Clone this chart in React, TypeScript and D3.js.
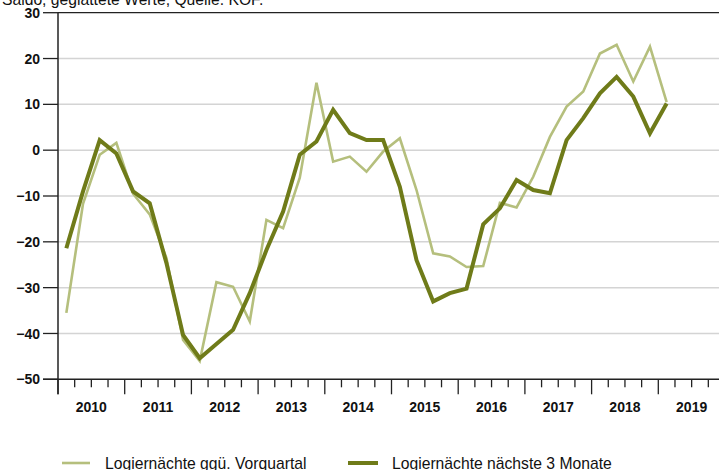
import React from "react";
import * as d3 from "d3";

const title = "Saldo, geglättete Werte, Quelle: KOF.";
const years = [2010, 2011, 2012, 2013, 2014, 2015, 2016, 2017, 2018, 2019];
const yTicks = [30, 20, 10, 0, -10, -20, -30, -40, -50];
const seriesNames = ["Logiernächte ggü. Vorquartal", "Logiernächte nächste 3 Monate"];
// quarterly values 2010Q1 .. 2019Q1
const vorquartal = [
  -35.5, -11.7, -1, 1.6, -9.5, -14, -23.5, -41.4, -46, -28.8, -29.8, -37.4, -15.2, -17, -6,
  14.7, -2.5, -1.4, -4.7, -0.3, 2.6, -8.7, -22.5, -23.2, -25.5, -25.3, -11.5, -12.5, -5.8,
  2.9, 9.5, 12.8, 21.1, 23, 15, 22.6, 10.5,
];
const naechste3 = [
  -21.4, -9, 2.2, -0.7, -9, -11.6, -24.6, -40.3, -45.4, -42.3, -39.2, -31.2, -21.8, -13.4, -1,
  1.9, 8.8, 3.7, 2.2, 2.2, -8, -24, -33, -31.2, -30.2, -16.2, -12.7, -6.5, -8.7, -9.4, 2.2, 7,
  12.4, 16, 11.7, 3.7, 10.2,
];

const W = 719;
const H = 470;
const LEFT = 58;
const TOP = 12.7;
const BOTTOM = 379.3;
const RIGHT_EDGE = 725;
const LIGHT = "#b5bf7d";
const DARK = "#6f7b19";
const AXIS = "#222";
const FONT = "'Liberation Sans', Arial, sans-serif";

export default function App() {
  const x = d3.scaleLinear().domain([2010, 2020]).range([LEFT, RIGHT_EDGE]);
  const y = d3.scaleLinear().domain([-50, 30]).range([BOTTOM, TOP]);
  const tOf = (i: number) => 2010 + (i + 0.5) / 4;
  const line = d3
    .line<number>()
    .x((_, i) => x(tOf(i)))
    .y((d) => y(d));

  const quarters = d3.range(0, 40).map((q) => 2010 + q / 4);

  return (
    <svg
      width={W}
      height={H}
      style={{ position: "absolute", left: 0, top: 0, background: "#fff" }}
      fontFamily={FONT}
    >
      <text x={2} y={5} fontSize={15.7} fill="#111">
        {title}
      </text>
      {/* gridlines */}
      {yTicks
        .filter((v) => v !== 30 && v !== -50)
        .map((v) => (
          <line key={"g" + v} x1={LEFT} x2={W} y1={y(v)} y2={y(v)} stroke="#d4d4d4" strokeWidth={1.5} />
        ))}
      <line x1={LEFT} x2={W} y1={y(30)} y2={y(30)} stroke={AXIS} strokeWidth={1.3} />
      {/* y ticks */}
      {yTicks.map((v) => (
        <g key={"yt" + v}>
          <line x1={43} x2={LEFT} y1={y(v)} y2={y(v)} stroke={AXIS} strokeWidth={1.3} />
          <text
            x={40}
            y={y(v)}
            dy="0.36em"
            textAnchor="end"
            fontSize={14}
            fontWeight="bold"
            fill="#111"
          >
            {v < 0 ? "\u2212" + Math.abs(v) : String(v)}
          </text>
        </g>
      ))}
      {/* x ticks */}
      {quarters.map((q, k) => (
        <line
          key={"xt" + k}
          x1={x(q)}
          x2={x(q)}
          y1={BOTTOM}
          y2={BOTTOM + (k % 4 === 0 ? 15 : 8)}
          stroke={AXIS}
          strokeWidth={1.3}
        />
      ))}
      {years.map((yr) => (
        <text
          key={"yl" + yr}
          x={x(yr + 0.5)}
          y={412}
          textAnchor="middle"
          fontSize={14}
          fontWeight="bold"
          fill="#111"
        >
          {yr}
        </text>
      ))}
      {/* axes */}
      <line x1={LEFT} x2={LEFT} y1={TOP} y2={BOTTOM + 15} stroke={AXIS} strokeWidth={1.5} />
      <line x1={43} x2={W} y1={BOTTOM} y2={BOTTOM} stroke={AXIS} strokeWidth={1.5} />
      {/* series */}
      <path d={line(vorquartal) || ""} fill="none" stroke={LIGHT} strokeWidth={2.6} strokeLinejoin="miter" />
      <path d={line(naechste3) || ""} fill="none" stroke={DARK} strokeWidth={4} strokeLinejoin="miter" />
      {/* legend */}
      <line x1={62} x2={90} y1={463} y2={463} stroke={LIGHT} strokeWidth={2.6} />
      <text x={105} y={469} fontSize={15.7} fill="#111">
        {seriesNames[0]}
      </text>
      <line x1={348} x2={378} y1={463} y2={463} stroke={DARK} strokeWidth={4} />
      <text x={392} y={469} fontSize={15.7} fill="#111">
        {seriesNames[1]}
      </text>
    </svg>
  );
}
